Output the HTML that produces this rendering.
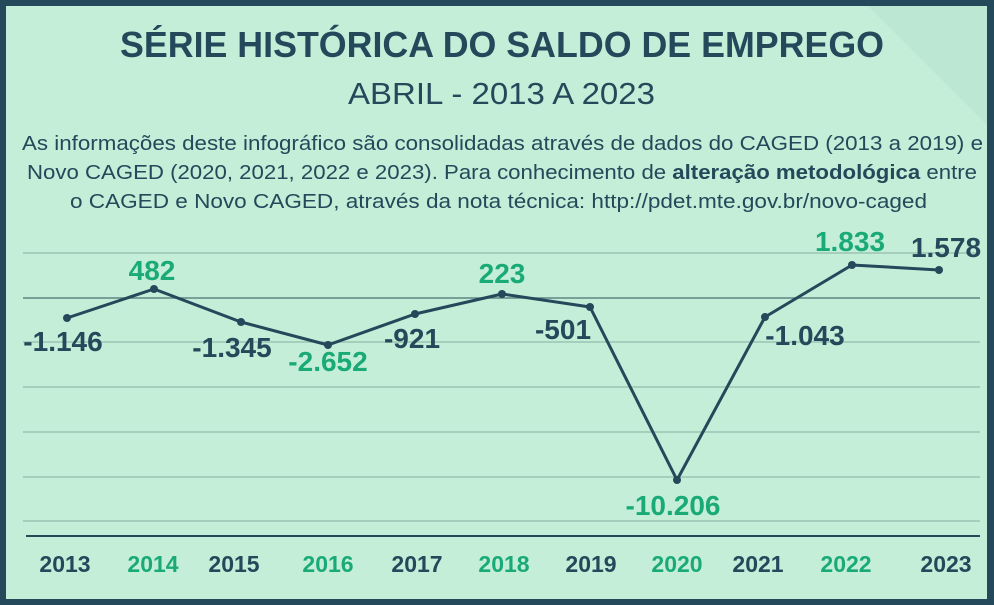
<!DOCTYPE html>
<html><head><meta charset="utf-8"><style>
html,body{margin:0;padding:0;}
body{width:994px;height:605px;overflow:hidden;background:#23495a;}
svg{display:block;font-family:"Liberation Sans","DejaVu Sans",sans-serif;}
</style></head><body>
<svg width="994" height="605" viewBox="0 0 994 605" xmlns="http://www.w3.org/2000/svg">
<rect x="0" y="0" width="994" height="605" fill="#23495a"/>
<rect x="6" y="6" width="981" height="593" fill="#c4eed8"/>
<polygon points="868,6 987,6 987,125" fill="#bce8d3"/>
<text x="120" y="57" textLength="764" lengthAdjust="spacingAndGlyphs" font-size="36" font-weight="bold" fill="#23495a">SÉRIE HISTÓRICA DO SALDO DE EMPREGO</text>
<text x="348" y="104" textLength="307" lengthAdjust="spacingAndGlyphs" font-size="31" fill="#23495a">ABRIL - 2013 A 2023</text>
<g font-size="20" fill="#23495a">
<text x="22" y="150" textLength="961" lengthAdjust="spacingAndGlyphs">As informações deste infográfico são consolidadas através de dados do CAGED (2013 a 2019) e</text>
<text x="27" y="179" textLength="950" lengthAdjust="spacingAndGlyphs">Novo CAGED (2020, 2021, 2022 e 2023). Para conhecimento de <tspan font-weight="bold">alteração metodológica</tspan> entre</text>
<text x="70" y="208" textLength="857" lengthAdjust="spacingAndGlyphs">o CAGED e Novo CAGED, através da nota técnica: http://pdet.mte.gov.br/novo-caged</text>
</g>
<g stroke="#9cc4b4" stroke-width="1.5">
<line x1="23" y1="253" x2="980" y2="253"/>
<line x1="23" y1="342" x2="980" y2="342"/>
<line x1="23" y1="387" x2="980" y2="387"/>
<line x1="23" y1="432" x2="980" y2="432"/>
<line x1="23" y1="477" x2="980" y2="477"/>
<line x1="23" y1="521" x2="980" y2="521"/>
</g>
<line x1="23" y1="298" x2="980" y2="298" stroke="#5f8684" stroke-width="1.5"/>
<line x1="26" y1="536" x2="980" y2="536" stroke="#23495a" stroke-width="2"/>
<polyline fill="none" stroke="#23495a" stroke-width="3" stroke-linejoin="round" points="67,318 154,289 241,322 328,345 415,314 502,294 590,307 677,480 765,317 852,265 939,270"/>
<g fill="#23495a">
<circle cx="67" cy="318" r="4"/><circle cx="154" cy="289" r="4"/><circle cx="241" cy="322" r="4"/><circle cx="328" cy="345" r="4"/><circle cx="415" cy="314" r="4"/><circle cx="502" cy="294" r="4"/><circle cx="590" cy="307" r="4"/><circle cx="677" cy="480" r="4"/><circle cx="765" cy="317" r="4"/><circle cx="852" cy="265" r="4"/><circle cx="939" cy="270" r="4"/>
</g>
<g font-size="28" font-weight="bold" text-anchor="middle">
<text x="63" y="351" fill="#23495a">-1.146</text>
<text x="152" y="280" fill="#1aaa78">482</text>
<text x="232" y="357" fill="#23495a">-1.345</text>
<text x="328" y="371" fill="#1aaa78">-2.652</text>
<text x="412" y="348" fill="#23495a">-921</text>
<text x="502" y="283" fill="#1aaa78">223</text>
<text x="563" y="339" fill="#23495a">-501</text>
<text x="673" y="515" fill="#1aaa78">-10.206</text>
<text x="805" y="345" fill="#23495a">-1.043</text>
<text x="850" y="251" fill="#1aaa78">1.833</text>
<text x="946" y="257" fill="#23495a">1.578</text>
</g>
<g font-size="23" font-weight="bold" text-anchor="middle">
<text x="65" y="572" fill="#23495a">2013</text>
<text x="153" y="572" fill="#1aaa78">2014</text>
<text x="234" y="572" fill="#23495a">2015</text>
<text x="328" y="572" fill="#1aaa78">2016</text>
<text x="417" y="572" fill="#23495a">2017</text>
<text x="504" y="572" fill="#1aaa78">2018</text>
<text x="591" y="572" fill="#23495a">2019</text>
<text x="677" y="572" fill="#1aaa78">2020</text>
<text x="758" y="572" fill="#23495a">2021</text>
<text x="846" y="572" fill="#1aaa78">2022</text>
<text x="946" y="572" fill="#23495a">2023</text>
</g>
</svg>
</body></html>
